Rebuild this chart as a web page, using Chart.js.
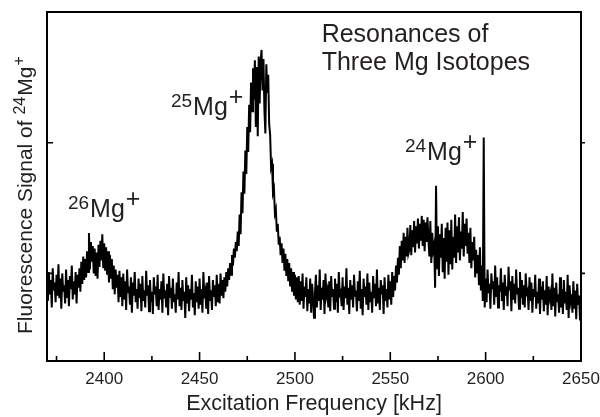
<!DOCTYPE html>
<html><head><meta charset="utf-8">
<script src="https://cdn.jsdelivr.net/npm/chart.js@4/dist/chart.umd.min.js"></script>
<style>html,body{margin:0;padding:0;background:#fff;} canvas{display:block;}</style>
</head><body>
<canvas id="c" width="600" height="417"></canvas>
<script>
// Sampling grid of the scan (kHz)
const freqStart = 2370;
const freqStep = 0.5;
// Fluorescence signal (arbitrary units), one value per 0.5 kHz
const signal = [
  92,79,101,84,95,74,104,87,93,78,99,83,107,81,96,73,100,86,91,77,        // 2370
  103,82,95,75,98,88,106,80,94,84,101,77,99,89,104,86,109,92,113,95,      // 2380
  111,97,117,101,131,103,124,109,121,100,119,98,116,96,122,105,125,110,130,104, // 2390
  123,102,120,99,117,93,114,96,111,88,106,84,103,89,99,78,102,82,97,75,   // 2400
  100,80,94,72,103,85,90,76,97,70,93,83,101,78,88,73,96,81,92,71,         // 2410
  98,79,87,74,102,83,91,71,95,78,86,69,97,84,90,75,99,72,88,80,           // 2420
  94,70,100,81,87,74,92,68,98,82,89,73,96,78,84,70,93,80,101,75,          // 2430
  89,72,95,79,86,66,97,77,91,71,88,80,99,74,85,68,94,78,90,73,            // 2440
  96,76,88,70,101,81,86,73,93,69,98,79,87,72,95,82,91,75,99,78,           // 2450
  92,77,100,83,95,81,97,86,101,90,104,95,108,99,114,106,119,112,124,117,  // 2460
  132,121,145,130,162,146,178,161,194,176,212,193,229,208,246,224,257,233,263,212, // 2470
  258,205,266,230,262,271,240,264,225,207,260,238,252,214,206,181,184,162,165,146, // 2480
  149,132,138,122,128,114,123,108,119,102,115,98,111,94,108,90,104,86,101,83, // 2490
  99,80,97,78,98,76,94,79,100,73,90,82,97,71,88,77,96,70,92,81,           // 2500
  66,85,99,74,91,79,103,72,89,80,95,69,100,83,87,74,94,71,98,82,          // 2510
  88,73,96,78,92,70,101,84,86,75,97,72,90,81,104,76,89,69,95,80,          // 2520
  91,74,99,83,87,71,94,79,102,73,88,68,96,82,90,76,100,72,93,78,          // 2530
  86,70,98,81,92,75,103,77,89,72,95,84,91,69,97,79,88,74,99,80,           // 2540
  94,76,101,82,98,87,106,93,112,99,121,104,125,110,131,108,128,113,135,115, // 2550
  118,137,114,133,120,140,116,136,123,142,119,138,125,144,121,141,117,139,124,143, // 2560
  126,113,140,108,131,118,122,89,167,104,136,98,130,112,138,101,127,96,135,109, // 2570
  139,99,133,107,141,103,128,112,145,108,136,116,143,110,132,119,147,113,138,121, // 2580
  142,115,131,108,135,104,124,110,128,97,118,100,114,91,120,87,106,79,204,74, // 2590
  96,78,103,85,92,73,100,88,94,76,106,82,97,74,91,86,104,79,93,72,        // 2600
  99,83,90,75,105,87,94,71,98,80,92,77,103,84,89,73,101,81,95,76,         // 2610
  91,74,100,85,87,72,97,79,93,70,88,82,99,73,86,77,96,69,90,80,           // 2620
  94,71,87,76,98,68,90,81,85,72,100,75,89,67,93,78,84,70,97,74,           // 2630
  88,69,95,77,86,72,99,66,91,79,84,70,94,73,87,65,92,76,83,64,            // 2640
  80                                                                      // 2650
];
const xTickLabels = [2400, 2450, 2500, 2550, 2600, 2650];
const xMinorTicks = [2375, 2425, 2475, 2525, 2575, 2625];
const yTickMarks = [100, 200];
const titleLines = ['Resonances of', 'Three Mg Isotopes'];
const isotopeMasses = ['26', '25', '24'];
const yTitleParts = ['Fluorescence Signal of ', '24', 'Mg', '+'];

const FONT = '"Liberation Sans", Arial, Helvetica, sans-serif';
const INK = '#231f20';

// label placement (data coordinates: kHz, signal units)
const titlePos = { freq: 2514, signal: [277, 255.6] };
const isotopePos = [[2381, 143.2], [2435, 221.2], [2557.7, 186.8]];

// draws "<sup>Mg<sup+>" style label starting at (px, py) baseline, returns nothing
function isotopeText(ctx, mass, px, py, big, small) {
  ctx.font = small + 'px ' + FONT;
  ctx.fillText(mass, px, py - big * 0.33);
  px += ctx.measureText(mass).width + 1;
  ctx.font = big + 'px ' + FONT;
  ctx.fillText('Mg', px, py);
  px += ctx.measureText('Mg').width + 1;
  ctx.fillText('+', px, py - big * 0.4);
}

const framePlugin = {
  id: 'frame',
  afterDatasetsDraw(chart) {
    const { ctx, chartArea: a, scales: { x, y } } = chart;
    ctx.save();
    ctx.strokeStyle = '#000';
    ctx.lineWidth = 2;
    ctx.strokeRect(a.left, a.top, a.right - a.left, a.bottom - a.top);
    ctx.lineWidth = 1.6;
    ctx.beginPath();
    xTickLabels.forEach(v => { const px = x.getPixelForValue(v); ctx.moveTo(px, a.bottom); ctx.lineTo(px, a.bottom - 9); });
    xMinorTicks.forEach(v => { const px = x.getPixelForValue(v); ctx.moveTo(px, a.bottom); ctx.lineTo(px, a.bottom - 5); });
    yTickMarks.forEach(v => {
      const py = y.getPixelForValue(v);
      ctx.moveTo(a.left, py); ctx.lineTo(a.left + 6, py);
      ctx.moveTo(a.right, py); ctx.lineTo(a.right + 4, py);
    });
    ctx.stroke();

    // annotations
    ctx.fillStyle = INK;
    ctx.textBaseline = 'alphabetic';
    ctx.textAlign = 'left';
    ctx.font = '25px ' + FONT;
    titleLines.forEach((t, i) => {
      ctx.fillText(t, x.getPixelForValue(titlePos.freq), y.getPixelForValue(titlePos.signal[i]));
    });
    isotopeMasses.forEach((m, i) => {
      isotopeText(ctx, m, x.getPixelForValue(isotopePos[i][0]), y.getPixelForValue(isotopePos[i][1]), 25, 19);
    });

    // y-axis title (rotated, with superscripts)
    ctx.save();
    ctx.translate(32, 334);
    ctx.rotate(-Math.PI / 2);
    let p = 0;
    ctx.font = '21px ' + FONT;
    ctx.fillText(yTitleParts[0], p, 0);
    p += ctx.measureText(yTitleParts[0]).width;
    ctx.font = '16px ' + FONT;
    ctx.fillText(yTitleParts[1], p, -7);
    p += ctx.measureText(yTitleParts[1]).width + 1;
    ctx.font = '21px ' + FONT;
    ctx.fillText(yTitleParts[2], p, 0);
    p += ctx.measureText(yTitleParts[2]).width + 1;
    ctx.font = '16px ' + FONT;
    ctx.fillText(yTitleParts[3], p, -8);
    ctx.restore();
    ctx.restore();
  }
};

new Chart(document.getElementById('c'), {
  type: 'line',
  data: {
    datasets: [{
      data: signal.map((v, i) => ({ x: freqStart + i * freqStep, y: v })),
      borderColor: '#000',
      borderWidth: 2,
      borderJoinStyle: 'miter',
      pointRadius: 0,
      tension: 0,
      fill: false
    }]
  },
  options: {
    responsive: false,
    animation: false,
    events: [],
    layout: { padding: { top: 12, right: 19, left: 0, bottom: 0 } },
    plugins: { legend: { display: false }, tooltip: { enabled: false } },
    scales: {
      x: {
        type: 'linear', min: 2370, max: 2650,
        grid: { display: false, drawTicks: false },
        border: { display: false },
        afterBuildTicks: s => { s.ticks = xTickLabels.map(v => ({ value: v })); },
        ticks: { color: INK, font: { family: FONT, size: 17 }, padding: 8, maxRotation: 0, autoSkip: false,
                 callback: v => String(v) },
        title: { display: true, text: 'Excitation Frequency [kHz]', color: INK, font: { family: FONT, size: 21.5 }, padding: { top: 0, bottom: 0 } },
        afterFit: s => { s.height = 56; s.paddingLeft = 0; s.paddingRight = 0; }
      },
      y: {
        type: 'linear', min: 33, max: 300,
        grid: { display: false, drawTicks: false },
        border: { display: false },
        ticks: { display: false },
        title: { display: false },
        afterFit: s => { s.width = 47; s.paddingTop = 0; s.paddingBottom = 0; }
      }
    }
  },
  plugins: [framePlugin]
});
</script>
</body></html>
